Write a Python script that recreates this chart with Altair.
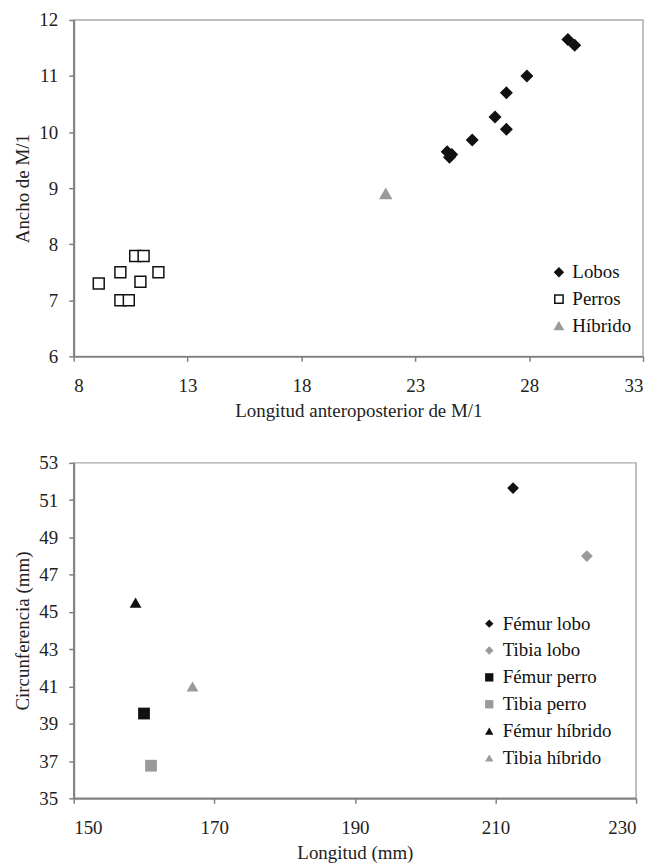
import altair as alt
import pandas as pd

# ---- Top panel data ----
grupos = ["Lobos", "Perros", "Híbrido"]
lobos_x = [29.7, 30.0, 27.9, 27.0, 26.5, 27.0, 25.5, 24.4, 24.5, 24.6]
lobos_y = [11.65, 11.55, 11.0, 10.7, 10.27, 10.05, 9.86, 9.65, 9.55, 9.6]
perros_x = [9.1, 10.05, 10.7, 11.07, 11.72, 10.93, 10.05, 10.42]
perros_y = [7.3, 7.5, 7.79, 7.79, 7.5, 7.33, 7.0, 7.0]
hibrido_x = [21.7]
hibrido_y = [8.9]

# ---- Bottom panel data ----
huesos = ["Fémur lobo", "Tibia lobo", "Fémur perro", "Tibia perro",
          "Fémur híbrido", "Tibia híbrido"]
longitud = [212.5, 223.0, 160.0, 161.0, 158.8, 166.9]
circunferencia = [51.65, 48.0, 39.55, 36.75, 45.5, 41.0]

top_x_ticks = [8, 13, 18, 23, 28, 33]
top_y_ticks = [6, 7, 8, 9, 10, 11, 12]
bot_x_ticks = [150, 170, 190, 210, 230]
bot_y_ticks = [35, 37, 39, 41, 43, 45, 47, 49, 51, 53]

BLACK = "#111111"
GREY = "#9a9a9a"
FONT = "Liberation Serif, Times New Roman, serif"

df_top = pd.DataFrame({
    "x": lobos_x + perros_x + hibrido_x,
    "y": lobos_y + perros_y + hibrido_y,
    "grupo": ["Lobos"] * len(lobos_x) + ["Perros"] * len(perros_x) + ["Híbrido"] * len(hibrido_x),
})
df_bot = pd.DataFrame({"x": longitud, "y": circunferencia, "hueso": huesos})


def legend(x, y):
    return alt.Legend(
        title=None, orient="none", legendX=x, legendY=y,
        labelFont=FONT, labelFontSize=19, labelColor=BLACK,
        symbolSize=70, symbolStrokeWidth=1.5, rowPadding=7, labelOffset=4,
        padding=0,
    )


leg_top = legend(478, 244)
top = alt.Chart(df_top).mark_point(filled=True, size=120, opacity=1, strokeWidth=1.5).encode(
    x=alt.X("x:Q", scale=alt.Scale(domain=[8, 33], nice=False, zero=False),
            axis=alt.Axis(values=top_x_ticks, title="Longitud anteroposterior de M/1")),
    y=alt.Y("y:Q", scale=alt.Scale(domain=[6, 12], nice=False, zero=False),
            axis=alt.Axis(values=top_y_ticks, title="Ancho de M/1")),
    shape=alt.Shape("grupo:N", scale=alt.Scale(domain=grupos, range=["diamond", "square", "triangle-up"]), legend=leg_top),
    fill=alt.Fill("grupo:N", scale=alt.Scale(domain=grupos, range=[BLACK, "white", GREY]), legend=leg_top),
    stroke=alt.Stroke("grupo:N", scale=alt.Scale(domain=grupos, range=[BLACK, BLACK, GREY]), legend=leg_top),
).properties(width=572, height=338)

leg_bot = legend(408, 152)
bot = alt.Chart(df_bot).mark_point(filled=True, size=140, opacity=1).encode(
    x=alt.X("x:Q", scale=alt.Scale(domain=[150, 230], nice=False, zero=False),
            axis=alt.Axis(values=bot_x_ticks, title="Longitud (mm)")),
    y=alt.Y("y:Q", scale=alt.Scale(domain=[35, 53], nice=False, zero=False),
            axis=alt.Axis(values=bot_y_ticks, title="Circunferencia (mm)")),
    shape=alt.Shape("hueso:N", scale=alt.Scale(domain=huesos, range=["diamond", "diamond", "square", "square", "triangle-up", "triangle-up"]), legend=leg_bot),
    fill=alt.Fill("hueso:N", scale=alt.Scale(domain=huesos, range=[BLACK, GREY, BLACK, GREY, BLACK, GREY]), legend=leg_bot),
).properties(width=565, height=337)

chart = alt.vconcat(top, bot, spacing=32).resolve_scale(
    shape="independent", fill="independent", stroke="independent",
    x="independent", y="independent",
).resolve_legend(shape="independent", fill="independent", stroke="independent").properties(
    padding={"top": 0, "left": 5, "right": 5, "bottom": 0},
).configure(
    font=FONT,
).configure_axis(
    grid=False, domainColor="#808080", domainWidth=2, tickColor="#808080", tickWidth=1.5,
    tickSize=5, labelFont=FONT, labelFontSize=19, labelColor="#222222", labelPadding=11,
    titleFont=FONT, titleFontSize=19, titleFontWeight="normal", titleColor="#222222", titlePadding=6,
).configure_axisX(labelPadding=15).configure_view(stroke="#aaaaaa", strokeWidth=1.5)

chart.save("out.html", embed_options={"renderer": "svg", "actions": False})
